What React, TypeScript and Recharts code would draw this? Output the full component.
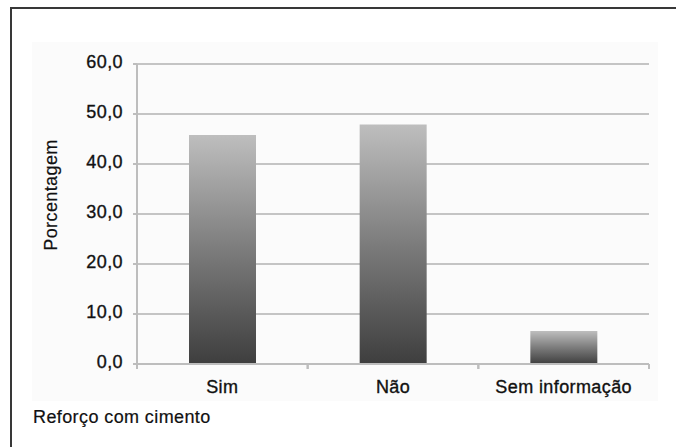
import { Bar, BarChart, CartesianGrid, XAxis, YAxis } from "recharts";

const categorias = ["Sim", "Não", "Sem informação"];
const porcentagens = [45.8, 47.9, 6.6];
const ticksY = [0, 10, 20, 30, 40, 50, 60];

const dados = categorias.map((categoria, i) => ({
	categoria,
	valor: porcentagens[i],
}));

const fonte = "'Liberation Sans', Arial, Helvetica, sans-serif";
const cinzaEixo = "#bdbdbd";
const margemTick = 16;
// texto um pouco mais encorpado, tipo Helvetica Medium
const estiloTexto = {
	fontFamily: fonte,
	fontSize: 18,
	fill: "#111",
	stroke: "#111",
	strokeWidth: 0.35,
	letterSpacing: 0.4,
};

const formataTick = (v: number) => v.toFixed(1).replace(".", ",");

// rótulo da categoria + traço nos limites da faixa (estilo Excel)
const TickCategoria = (props: any) => {
	const { x, y, payload } = props;
	const meia = payload.offset ?? 0;
	const yEixo = y - margemTick;
	return (
		<g>
			<line
				x1={x - meia}
				x2={x - meia}
				y1={yEixo}
				y2={yEixo + 5}
				stroke={cinzaEixo}
				strokeWidth={2}
			/>
			<line
				x1={x + meia}
				x2={x + meia}
				y1={yEixo}
				y2={yEixo + 5}
				stroke={cinzaEixo}
				strokeWidth={2}
			/>
			<text x={x} y={y} dy='0.71em' textAnchor='middle' {...estiloTexto}>
				{payload.value}
			</text>
		</g>
	);
};

const TituloY = () => (
	<text
		x={57}
		y={195}
		transform='rotate(-90 57 195)'
		textAnchor='middle'
		{...estiloTexto}
		strokeWidth={0.2}
	>
		Porcentagem
	</text>
);

const TituloX = () => (
	<text x={33} y={423} {...estiloTexto} strokeWidth={0.2}>
		Reforço com cimento
	</text>
);

const App = () => {
	return (
		<div
			style={{
				position: "absolute",
				left: 0,
				top: 0,
				width: 676,
				height: 447,
				background: "#fff",
				overflow: "hidden",
			}}
		>
			{/* moldura: só borda esquerda e superior */}
			<div
				style={{
					position: "absolute",
					left: 10,
					top: 7,
					width: 680,
					height: 460,
					borderLeft: "2px solid #383838",
					borderTop: "2px solid #383838",
				}}
			/>
			<div
				style={{
					position: "absolute",
					left: 32,
					top: 42,
					width: 626,
					height: 359,
					background: "#fbfbfb",
				}}
			/>
			<div style={{ position: "absolute", left: 0, top: 0 }}>
				<BarChart
					width={676}
					height={447}
					data={dados}
					margin={{ top: 64, right: 27, bottom: 53, left: 77 }}
				>
					<defs>
						<linearGradient id='gradBarra' x1='0' y1='0' x2='0' y2='1'>
							<stop offset='0%' stopColor='#bebebe' />
							<stop offset='50%' stopColor='#7c7c7c' />
							<stop offset='100%' stopColor='#3e3e3e' />
						</linearGradient>
					</defs>
					<CartesianGrid
						vertical={false}
						stroke='#c4c4c4'
						strokeWidth={2}
					/>
					<XAxis
						dataKey='categoria'
						height={30}
						axisLine={{ stroke: cinzaEixo, strokeWidth: 2 }}
						tickLine={false}
						tickSize={0}
						tickMargin={margemTick}
						tick={TickCategoria}
						label={{ value: "Reforço com cimento", content: TituloX }}
					/>
					<YAxis
						width={60}
						domain={[0, 60]}
						ticks={ticksY}
						tickFormatter={formataTick}
						axisLine={{ stroke: cinzaEixo, strokeWidth: 2 }}
						tickLine={{ stroke: cinzaEixo, strokeWidth: 2 }}
						tickSize={4}
						tickMargin={10}
						tick={{ ...estiloTexto, dy: -2 }}
						label={{ value: "Porcentagem", content: TituloY }}
					/>
					<Bar
						dataKey='valor'
						fill='url(#gradBarra)'
						barSize={67}
						isAnimationActive={false}
					/>
				</BarChart>
			</div>
		</div>
	);
};

export default App;
